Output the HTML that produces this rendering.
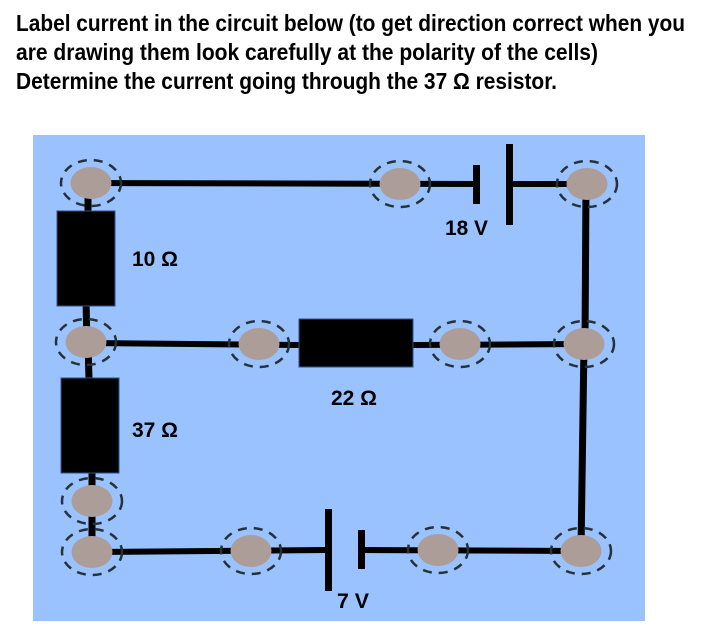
<!DOCTYPE html>
<html>
<head>
<meta charset="utf-8">
<style>
html,body{margin:0;padding:0;background:#fff}
svg{display:block}
text{font-family:"Liberation Sans",sans-serif;font-weight:bold;fill:#000}
</style>
</head>
<body>
<svg width="707" height="630" viewBox="0 0 707 630" xmlns="http://www.w3.org/2000/svg">
<text x="16" y="31" font-size="23" textLength="669" lengthAdjust="spacingAndGlyphs">Label current in the circuit below (to get direction correct when you</text>
<text x="16" y="60" font-size="23" textLength="582" lengthAdjust="spacingAndGlyphs">are drawing them look carefully at the polarity of the cells)</text>
<text x="16" y="89" font-size="23" textLength="541" lengthAdjust="spacingAndGlyphs">Determine the current going through the 37 Ω resistor.</text>
<rect x="33" y="135" width="612" height="486" fill="#99c2ff"/>
<g stroke="#000" stroke-width="6" fill="none">
<line x1="91" y1="183" x2="476" y2="184"/>
<line x1="510" y1="184" x2="587" y2="184"/>
<line x1="586" y1="184" x2="585" y2="344" stroke-width="7"/>
<line x1="584" y1="344" x2="581" y2="551" stroke-width="7"/>
<line x1="88" y1="183" x2="88" y2="215" stroke-width="7"/>
<line x1="86" y1="300" x2="87" y2="345" stroke-width="7"/>
<line x1="88" y1="342" x2="89" y2="380" stroke-width="7"/>
<line x1="92" y1="470" x2="92" y2="552" stroke-width="7"/>
<line x1="86" y1="343" x2="300" y2="345"/>
<line x1="413" y1="345" x2="584" y2="344"/>
<line x1="92" y1="552" x2="328" y2="550"/>
<line x1="362" y1="550" x2="581" y2="551"/>
</g>
<g fill="#000">
<rect x="57" y="211" width="58" height="95" stroke="#2f528f" stroke-width="1"/>
<rect x="61" y="378" width="58" height="95" stroke="#2f528f" stroke-width="1"/>
<rect x="299" y="319" width="114" height="48" stroke="#2f528f" stroke-width="1"/>
<rect x="473" y="165" width="7" height="39"/>
<rect x="506" y="144" width="7" height="81"/>
<rect x="325" y="509" width="7" height="82"/>
<rect x="358" y="530" width="7" height="39"/>
</g>
<g fill="#ad9d99">
<ellipse cx="91" cy="183" rx="20.5" ry="16"/>
<ellipse cx="86" cy="342" rx="20.5" ry="16"/>
<ellipse cx="92" cy="501" rx="20.5" ry="16"/>
<ellipse cx="92" cy="552" rx="20.5" ry="16"/>
<ellipse cx="251" cy="551" rx="20.5" ry="16"/>
<ellipse cx="400" cy="184" rx="20.5" ry="16"/>
<ellipse cx="587" cy="184" rx="20.5" ry="16"/>
<ellipse cx="460" cy="344" rx="20.5" ry="16"/>
<ellipse cx="584" cy="344" rx="20.5" ry="16"/>
<ellipse cx="259" cy="344" rx="20.5" ry="16"/>
<ellipse cx="581" cy="551" rx="20.5" ry="16"/>
<ellipse cx="438" cy="550" rx="20.5" ry="16"/>
</g>
<g fill="none" stroke="#263238" stroke-width="2.5" stroke-dasharray="9 7">
<ellipse cx="91" cy="183" rx="30" ry="23"/>
<ellipse cx="86" cy="342" rx="30" ry="23"/>
<ellipse cx="92" cy="501" rx="30" ry="23"/>
<ellipse cx="92" cy="552" rx="30" ry="23"/>
<ellipse cx="251" cy="551" rx="30" ry="23"/>
<ellipse cx="400" cy="184" rx="30" ry="23"/>
<ellipse cx="587" cy="184" rx="30" ry="23"/>
<ellipse cx="460" cy="344" rx="30" ry="23"/>
<ellipse cx="584" cy="344" rx="30" ry="23"/>
<ellipse cx="259" cy="344" rx="30" ry="23"/>
<ellipse cx="581" cy="551" rx="30" ry="23"/>
<ellipse cx="438" cy="550" rx="30" ry="23"/>
</g>
<text x="132" y="266" font-size="21" textLength="46" lengthAdjust="spacingAndGlyphs">10 Ω</text>
<text x="132" y="437" font-size="21" textLength="46" lengthAdjust="spacingAndGlyphs">37 Ω</text>
<text x="331" y="405" font-size="21" textLength="46" lengthAdjust="spacingAndGlyphs">22 Ω</text>
<text x="445" y="235" font-size="21" textLength="43" lengthAdjust="spacingAndGlyphs">18 V</text>
<text x="337" y="608" font-size="21" textLength="32" lengthAdjust="spacingAndGlyphs">7 V</text>
</svg>
</body>
</html>
